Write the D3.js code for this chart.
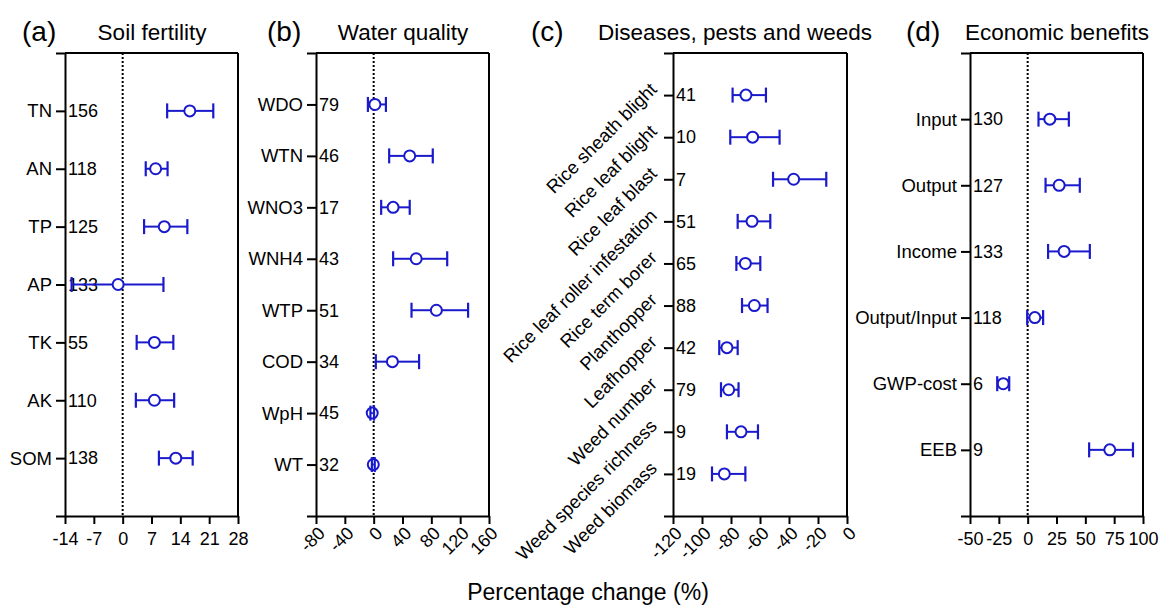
<!DOCTYPE html>
<html>
<head>
<meta charset="utf-8">
<script src="https://cdn.jsdelivr.net/npm/d3@7"></script>
<style>
  body { margin: 0; background: #fff; }
  text { font-family: Arial, "Liberation Sans", sans-serif; fill: #000; }
  .axis path, .axis line { stroke: #000; stroke-width: 2; }
</style>
</head>
<body>
<div id="canvas"></div>
<script>
// DATA
const soilCats = ["TN", "AN", "TP", "AP", "TK", "AK", "SOM"];
const soilN = [156, 118, 125, 133, 55, 110, 138];
const soilMean = [16.3, 8.0, 10.1, -1.1, 7.7, 7.7, 12.9];
const soilLow = [10.8, 5.6, 5.2, -12.4, 3.4, 3.2, 8.8];
const soilHigh = [22.0, 10.9, 15.7, 9.9, 12.3, 12.5, 17.0];
const soilTicks = [-14, -7, 0, 7, 14, 21, 28];

const waterCats = ["WDO", "WTN", "WNO3", "WNH4", "WTP", "COD", "WpH", "WT"];
const waterN = [79, 46, 17, 43, 51, 34, 45, 32];
const waterMean = [1.7, 50, 27, 59, 87, 26, -2, -0.5];
const waterLow = [-8, 21.5, 10.4, 27, 52.5, 3, -4.5, -2.5];
const waterHigh = [17, 82, 50, 102, 131, 63, 0.5, 1.5];
const waterTicks = [-80, -40, 0, 40, 80, 120, 160];

const pestCats = ["Rice sheath blight", "Rice leaf blight", "Rice leaf blast", "Rice leaf roller infestation",
  "Rice term borer", "Planthopper", "Leafhopper", "Weed number", "Weed species richness", "Weed biomass"];
const pestN = [41, 10, 7, 51, 65, 88, 42, 79, 9, 19];
const pestMean = [-69.7, -65.1, -36.8, -65.5, -70.1, -63.9, -82.8, -81.6, -73.1, -84.6];
const pestLow = [-78.9, -80.5, -51, -75.4, -76.3, -72.4, -88.1, -86.9, -82.8, -93.1];
const pestHigh = [-55.9, -46.5, -14.3, -52.9, -59.8, -54.8, -75.4, -74.8, -61.4, -70.1];
const pestTicks = [-120, -100, -80, -60, -40, -20, 0];

const econCats = ["Input", "Output", "Income", "Output/Input", "GWP-cost", "EEB"];
const econN = [130, 127, 133, 118, 6, 9];
const econMean = [19.2, 27.3, 31.6, 6.2, -21.2, 71.2];
const econLow = [9.4, 15.5, 17.7, -0.4, -26.4, 53.3];
const econHigh = [35.7, 45.2, 53.9, 13.4, -16, 91.3];
const econTicks = [-50, -25, 0, 25, 50, 75, 100];

// DIMENSIONS
const width = 1161;
const height = 607;
const plotTop = 53;
const plotBottom = 516;
const blue = "#1a1acc";

const canvas = d3.select("#canvas")
  .append("svg")
  .attr("width", width)
  .attr("height", height);

function drawPanel(p) {
  const rows = p.cats.map((c, i) => ({
    cat: c, n: p.n[i], mean: p.mean[i], low: p.low[i], high: p.high[i], idx: i + 1
  }));

  const x = d3.scaleLinear().domain(d3.extent(p.ticks)).range([p.x0, p.x1]);
  const y = d3.scaleLinear().domain([0, p.cats.length + 1]).range([plotTop, plotBottom]);

  const g = canvas.append("g");

  // TITLES
  g.append("text")
    .attr("x", p.tagX).attr("y", 41)
    .style("font-size", "28px")
    .text(p.tag);
  g.append("text")
    .attr("x", p.titleX).attr("y", 40)
    .attr("text-anchor", "middle")
    .style("font-size", "22.5px")
    .text(p.title);

  // FRAME
  g.append("line")
    .attr("x1", p.x0).attr("x2", p.x1).attr("y1", plotTop).attr("y2", plotTop)
    .attr("stroke", "#000").attr("stroke-width", 2);
  g.append("line")
    .attr("x1", p.x1).attr("x2", p.x1).attr("y1", plotTop).attr("y2", plotBottom)
    .attr("stroke", "#000").attr("stroke-width", 2);

  // zero line
  g.append("line")
    .attr("x1", x(0)).attr("x2", x(0)).attr("y1", plotTop).attr("y2", plotBottom)
    .attr("stroke", "#000").attr("stroke-width", 2)
    .attr("stroke-dasharray", "2,2");

  // AXES
  const yAx = d3.axisLeft(y)
    .tickValues(rows.map(d => d.idx))
    .tickFormat((d, i) => p.cats[i])
    .tickSize(9).tickSizeOuter(9).tickPadding(4);

  const yaxis = g.append("g")
    .attr("class", "axis")
    .attr("transform", `translate(${p.x0},0)`)
    .call(yAx);
  yaxis.selectAll("text").style("font-size", "18.5px");
  if (p.rotateCats) {
    yaxis.selectAll("text")
      .attr("x", 0).attr("dy", 0)
      .attr("transform", "translate(-15,-5) rotate(-45)");
  }

  const xAx = d3.axisBottom(x)
    .tickValues(p.ticks)
    .tickFormat(d => String(d))
    .tickSize(8).tickSizeOuter(0).tickPadding(8);

  const xaxis = g.append("g")
    .attr("class", "axis")
    .attr("transform", `translate(0,${plotBottom})`)
    .call(xAx);
  xaxis.selectAll("text").style("font-size", "18px");
  if (p.rotateTicks) {
    xaxis.selectAll("text")
      .attr("y", 0).attr("dy", "0.35em")
      .attr("text-anchor", "end")
      .attr("transform", "translate(5,14) rotate(-45)");
  }

  // COUNTS
  g.selectAll(".count").data(rows).join("text")
    .attr("class", "count")
    .attr("x", p.x0 + 3)
    .attr("y", d => y(d.idx))
    .attr("dy", "0.35em")
    .style("font-size", "18px")
    .text(d => d.n);

  // ERROR BARS + POINTS
  const r = 5.5;
  const marks = g.selectAll(".mark").data(rows).join("g").attr("class", "mark");

  marks.append("circle")
    .attr("cx", d => x(d.mean)).attr("cy", d => y(d.idx))
    .attr("r", r)
    .attr("fill", "#fff").attr("stroke", blue).attr("stroke-width", 2);

  marks.append("line")
    .attr("x1", d => x(d.low))
    .attr("x2", d => x(d.low) < x(d.mean) - r ? x(d.mean) - r : x(d.mean))
    .attr("y1", d => y(d.idx)).attr("y2", d => y(d.idx))
    .attr("stroke", blue).attr("stroke-width", 2);
  marks.append("line")
    .attr("x1", d => x(d.high) > x(d.mean) + r ? x(d.mean) + r : x(d.mean))
    .attr("x2", d => x(d.high))
    .attr("y1", d => y(d.idx)).attr("y2", d => y(d.idx))
    .attr("stroke", blue).attr("stroke-width", 2);

  ["low", "high"].forEach(k => {
    marks.append("line")
      .attr("x1", d => x(d[k])).attr("x2", d => x(d[k]))
      .attr("y1", d => y(d.idx) - 7.5).attr("y2", d => y(d.idx) + 7.5)
      .attr("stroke", blue).attr("stroke-width", 2.2);
  });
}

drawPanel({ tag: "(a)", tagX: 22, title: "Soil fertility", titleX: 152,
  x0: 65, x1: 238, ticks: soilTicks,
  cats: soilCats, n: soilN, mean: soilMean, low: soilLow, high: soilHigh });

drawPanel({ tag: "(b)", tagX: 267, title: "Water quality", titleX: 403,
  x0: 316, x1: 489, ticks: waterTicks, rotateTicks: true,
  cats: waterCats, n: waterN, mean: waterMean, low: waterLow, high: waterHigh });

drawPanel({ tag: "(c)", tagX: 531, title: "Diseases, pests and weeds", titleX: 735,
  x0: 673, x1: 847, ticks: pestTicks, rotateTicks: true, rotateCats: true,
  cats: pestCats, n: pestN, mean: pestMean, low: pestLow, high: pestHigh });

drawPanel({ tag: "(d)", tagX: 906, title: "Economic benefits", titleX: 1057,
  x0: 970, x1: 1143, ticks: econTicks,
  cats: econCats, n: econN, mean: econMean, low: econLow, high: econHigh });

// AXIS LABEL
canvas.append("text")
  .attr("x", 588).attr("y", 600)
  .attr("text-anchor", "middle")
  .style("font-size", "23px")
  .text("Percentage change (%)");
</script>
</body>
</html>
